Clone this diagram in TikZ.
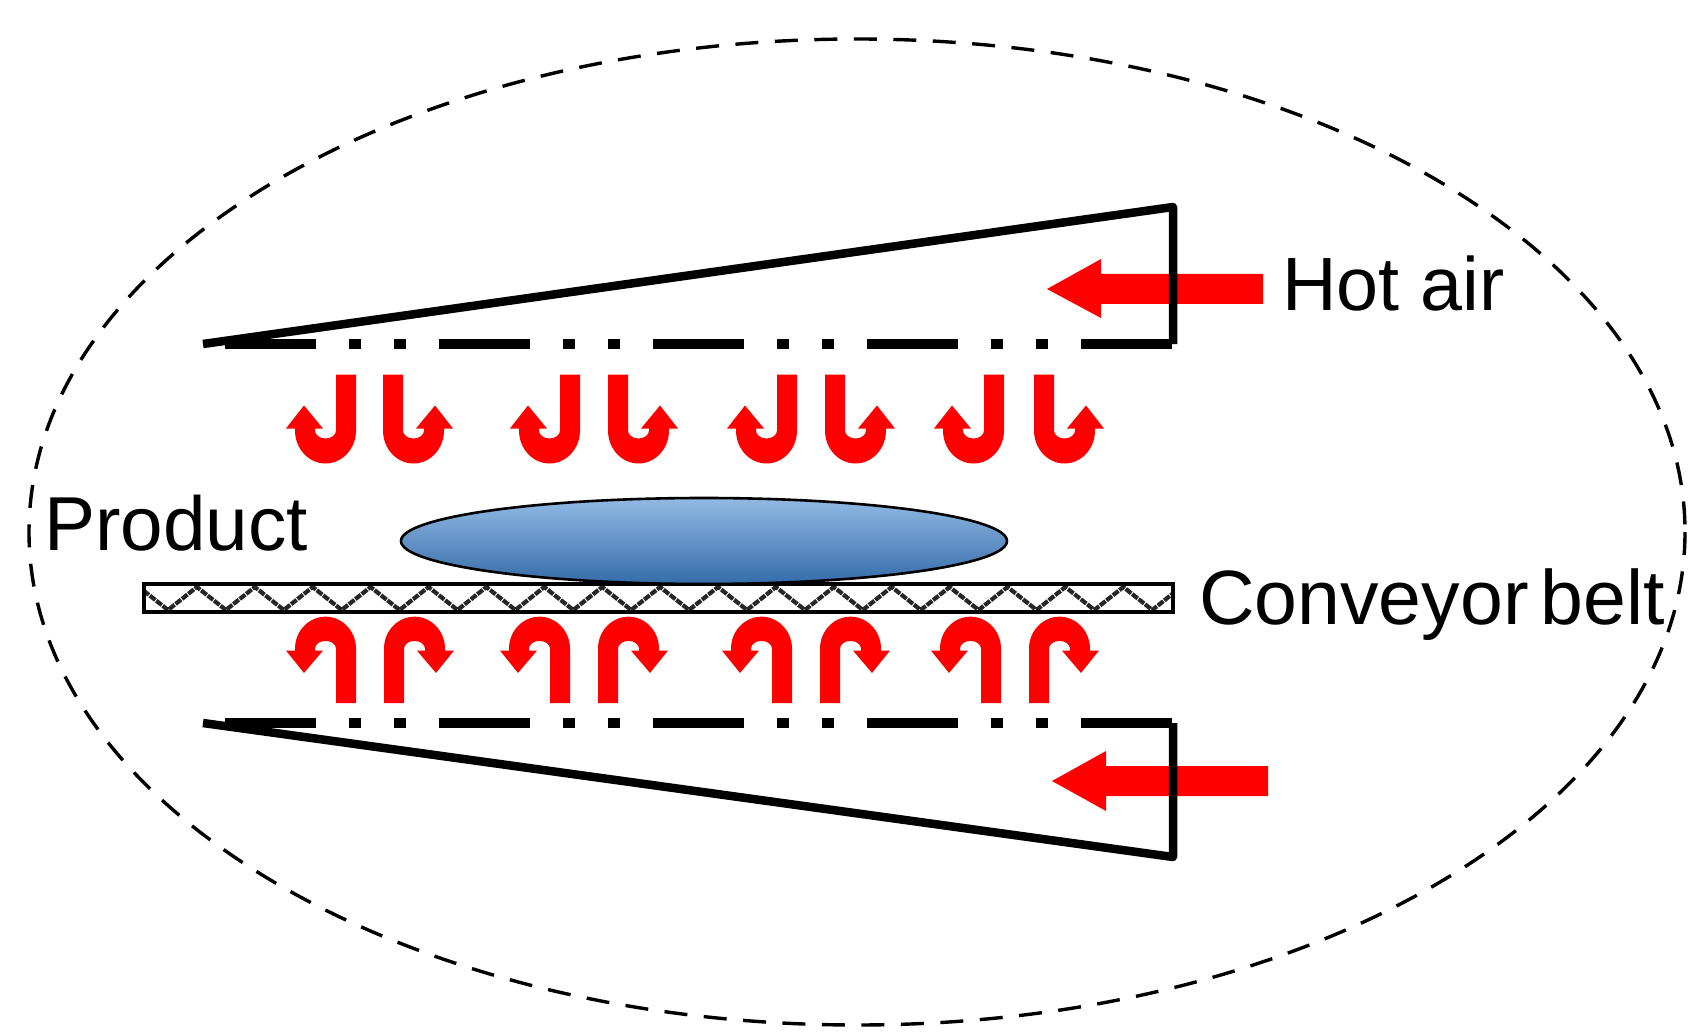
\documentclass[tikz,border=0pt]{standalone}
\usepackage{fontspec}
\setmainfont{Liberation Sans}
\definecolor{airred}{RGB}{255,0,0}
\definecolor{prodtop}{RGB}{146,186,228}
\definecolor{prodmid}{RGB}{100,160,218}
\definecolor{prodbot}{RGB}{52,108,168}
\tikzset{
  boundary/.style={draw=black,line width=3.4pt,dash pattern=on 23pt off 16.5pt},
  ductwall/.style={draw=black,line width=8.5pt,line join=round},
  perforated/.style={draw=black,line width=10.5pt,dash pattern=on 91pt off 33pt on 12pt off 33pt on 12pt off 33pt},
  hotflow/.style={fill=airred,draw=none},
  beltbox/.style={draw=black,line width=4pt},
  belthatch/.style={draw=black!85,line width=4.2pt,dash pattern=on 7pt off 1.2pt},
  biglabel/.style={inner sep=0pt,anchor=base west,text=black}
}
% local frame: stem end at the origin, depth along y, head along +x
\newcommand{\ubend}[4]{%
  \begin{scope}[shift={(#1,#2)},xscale=#3,yscale=#4]
    \fill[hotflow] (-10,0) -- (-10,56)
      .. controls (-10,74.2) and (3.65,89) .. (20.5,89)
      .. controls (37.35,89) and (51,74.2) .. (51,56)
      -- (51,54) -- (60,54) -- (42,31) -- (23,54) -- (31,54) -- (31,56)
      .. controls (31,60.4) and (26.3,64) .. (20.5,64)
      .. controls (14.7,64) and (10,60.4) .. (10,56)
      -- (10,0) -- cycle;
  \end{scope}}
\begin{document}
\begin{tikzpicture}[x=1pt,y=-1pt]
\useasboundingbox (0,0) rectangle (1689,1032);
% process boundary
\draw[boundary] (857,532) ellipse [x radius=828,y radius=493];
% big inlet arrows
\fill[hotflow] (1047,289) -- (1101,259) -- (1101,274) -- (1263,274) -- (1263,304) -- (1101,304) -- (1101,318) -- cycle;
\fill[hotflow] (1052,781) -- (1106,751) -- (1106,766) -- (1268,766) -- (1268,796) -- (1106,796) -- (1106,811) -- cycle;
% ducts
\coordinate (tl) at (203,344);
\coordinate (tr) at (1173,207);
\coordinate (tb) at (1173,344);
\coordinate (bl) at (203,723);
\coordinate (br) at (1173,857);
\coordinate (bt) at (1173,723);
\coordinate (ts) at (225,344);
\coordinate (bs) at (225,723);
\draw[perforated] (ts) -- (tb);
\draw[perforated] (bs) -- (bt);
\draw[ductwall] (tl) -- (tr) -- (tb);
\draw[ductwall] (bl) -- (br) -- (bt);
% upper jets
\foreach \s in {346,570,787,994} {\ubend{\s}{374.5}{-1}{1}}
\foreach \s in {393,618,835,1044} {\ubend{\s}{374.5}{1}{1}}
% lower jets
\foreach \s in {346,560,782,991} {\ubend{\s}{703}{-1}{-0.97}}
\foreach \s in {394,608,830,1039} {\ubend{\s}{703}{1}{-0.97}}
% belt
\begin{scope}
  \clip (144,584) rectangle (1173,612);
  \draw[belthatch] (110.1,587) -- (139,610)
    \foreach \k in {0,...,17} { -- ({168+57.9*\k-29},587) -- ({168+57.9*\k},610) }
    -- (1181,587);
\end{scope}
\draw[beltbox] (144,584) rectangle (1173,612);
% product
\draw[line width=2.6pt,draw=black,top color=prodtop,middle color=prodmid,bottom color=prodbot] (704,541) ellipse [x radius=303,y radius=43];
% labels
\node[biglabel,font=\fontsize{75.5}{80}\selectfont] (hot) at (1282,311) {Hot air};
\node[biglabel,font=\fontsize{76.5}{80}\selectfont] (prod) at (44,550) {Product};
\node[biglabel,font=\fontsize{77}{80}\selectfont] (belt) at (1199,624) {\spaceskip=12pt Conveyor belt};
\end{tikzpicture}
\end{document}
